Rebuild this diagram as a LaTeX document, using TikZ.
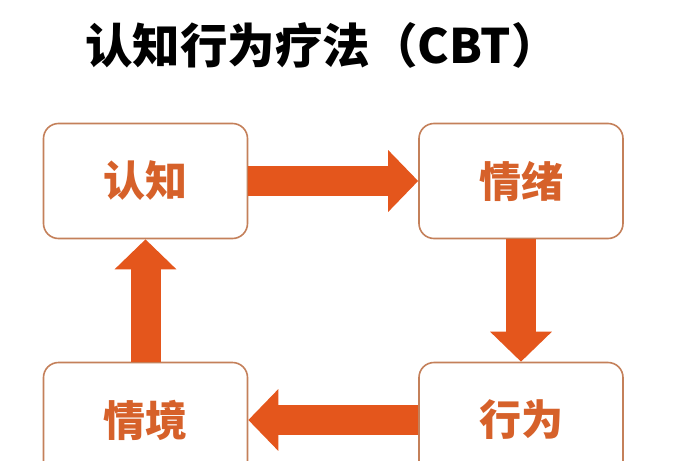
\documentclass[tikz,border=0pt]{standalone}
\usepackage{fontspec}
\newfontfamily\cjk{Noto Sans CJK SC}
\usetikzlibrary{arrows.meta}
\definecolor{arrowor}{HTML}{E4561C}
\definecolor{textor}{HTML}{D6612A}
\definecolor{boxline}{HTML}{C4805A}
\tikzset{
  stage/.style={draw=boxline, line width=1.6pt, fill=white, rounded corners=15pt,
    minimum width=204pt, minimum height=115pt, inner sep=0pt,
    text=textor, font=\cjk\bfseries\fontsize{42}{42}\selectfont},
  bigarrow/.style={draw=arrowor, line width=30pt,
    -{Triangle[width=60pt,length=30pt]}},
  titletext/.style={font=\cjk\bfseries\fontsize{47.5}{47.5}\selectfont, text=black}
}
\begin{document}
\begin{tikzpicture}[x=1pt,y=-1pt]
\useasboundingbox (0,0) rectangle (673,461);
\clip (0,0) rectangle (673,461);
\fill[white] (0,0) rectangle (673,461);
\node[titletext] (title) at (322,45) {认知行为疗法（CBT）};
\node[stage] (rz) at (145.5,181) {认知};
\node[stage] (qx) at (521,181) {情绪};
\node[stage] (xw) at (521,420) {行为};
\node[stage] (qj) at (145.5,420) {情境};
\draw[bigarrow] (rz.east) -- (qx.west);
\draw[bigarrow] (qx.south) -- (xw.north);
\draw[bigarrow] (xw.west) -- (qj.east);
\draw[bigarrow] (qj.north) -- (rz.south);
\end{tikzpicture}
\end{document}
